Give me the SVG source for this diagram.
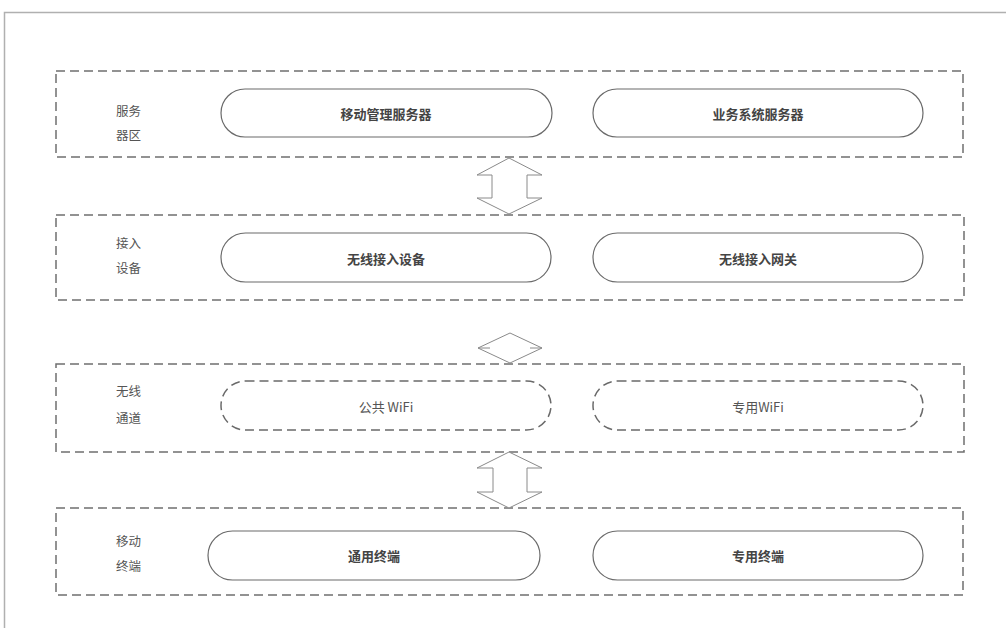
<svg xmlns="http://www.w3.org/2000/svg" width="1006" height="628" viewBox="0 0 1006 628">
<style>
.zone{fill:none;stroke:#6f6f6f;stroke-width:1.5;stroke-dasharray:9 5}
.pill{fill:#fff;stroke:#6a6a6a;stroke-width:1.2}
.dpill{fill:#fff;stroke:#6a6a6a;stroke-width:1.5;stroke-dasharray:9 5}
.t{font-family:"Noto Sans CJK SC","Noto Sans",sans-serif;font-size:13px;font-weight:bold;fill:#444;text-anchor:middle;dominant-baseline:central}
.t.light{font-weight:normal;fill:#555}
.lab{font-family:"Noto Sans CJK SC","Noto Sans",sans-serif;font-size:12.5px;fill:#555}
.arr{fill:#fff;stroke:#8a8a8a;stroke-width:1}
</style>
<rect width="1006" height="628" fill="#fff"/>
<path d="M4.5 628V12.5H1006" fill="none" stroke="#b0b0b0" stroke-width="1.5"/>

<g id="zone-server">
<rect class="zone" x="56" y="71" width="907" height="86"/>
<text class="lab" x="116" y="116">服务</text>
<text class="lab" x="116" y="140">器区</text>
</g>
<g id="zone-access">
<rect class="zone" x="56" y="215" width="908" height="85"/>
<text class="lab" x="116" y="248">接入</text>
<text class="lab" x="116" y="273">设备</text>
</g>
<g id="zone-wireless">
<rect class="zone" x="56" y="364" width="908" height="88"/>
<text class="lab" x="116" y="396">无线</text>
<text class="lab" x="116" y="423">通道</text>
</g>
<g id="zone-terminal">
<rect class="zone" x="56" y="508" width="907" height="87"/>
<text class="lab" x="116" y="546">移动</text>
<text class="lab" x="116" y="571">终端</text>
</g>

<g id="n-mdm"><rect class="pill" x="221" y="89" width="331" height="48" rx="24"/><text class="t" x="386" y="113">移动管理服务器</text></g>
<g id="n-biz"><rect class="pill" x="593" y="89" width="330" height="48" rx="24"/><text class="t" x="758" y="113">业务系统服务器</text></g>
<g id="n-wad"><rect class="pill" x="221" y="233" width="330" height="49" rx="24.5"/><text class="t" x="386" y="258">无线接入设备</text></g>
<g id="n-wgw"><rect class="pill" x="593" y="233" width="330" height="49" rx="24.5"/><text class="t" x="758" y="258">无线接入网关</text></g>
<g id="n-pubwifi"><rect class="dpill" x="221" y="381" width="330" height="49" rx="24.5"/><text class="t light" x="386" y="406">公共 WiFi</text></g>
<g id="n-prvwifi"><rect class="dpill" x="593" y="381" width="330" height="49" rx="24.5"/><text class="t light" x="758" y="406">专用WiFi</text></g>
<g id="n-gen"><rect class="pill" x="208" y="531" width="332" height="49" rx="24.5"/><text class="t" x="374" y="555">通用终端</text></g>
<g id="n-ded"><rect class="pill" x="593" y="531" width="330" height="49" rx="24.5"/><text class="t" x="758" y="555">专用终端</text></g>

<g id="connectors">
<polygon class="arr" points="509,158 542,175 527,175 527,198 542,198 509,214 477,198 492,198 492,175 477,175"/>
<polygon class="arr" points="510,333 542,348 510,363 478,348"/>
<path d="M478 348H490M530 348H542" stroke="#8a8a8a" stroke-width="1" fill="none"/>
<polygon class="arr" points="509,452 542,468 527,468 527,492 542,492 509,508 477,492 493,492 493,468 477,468"/>
</g>
</svg>
